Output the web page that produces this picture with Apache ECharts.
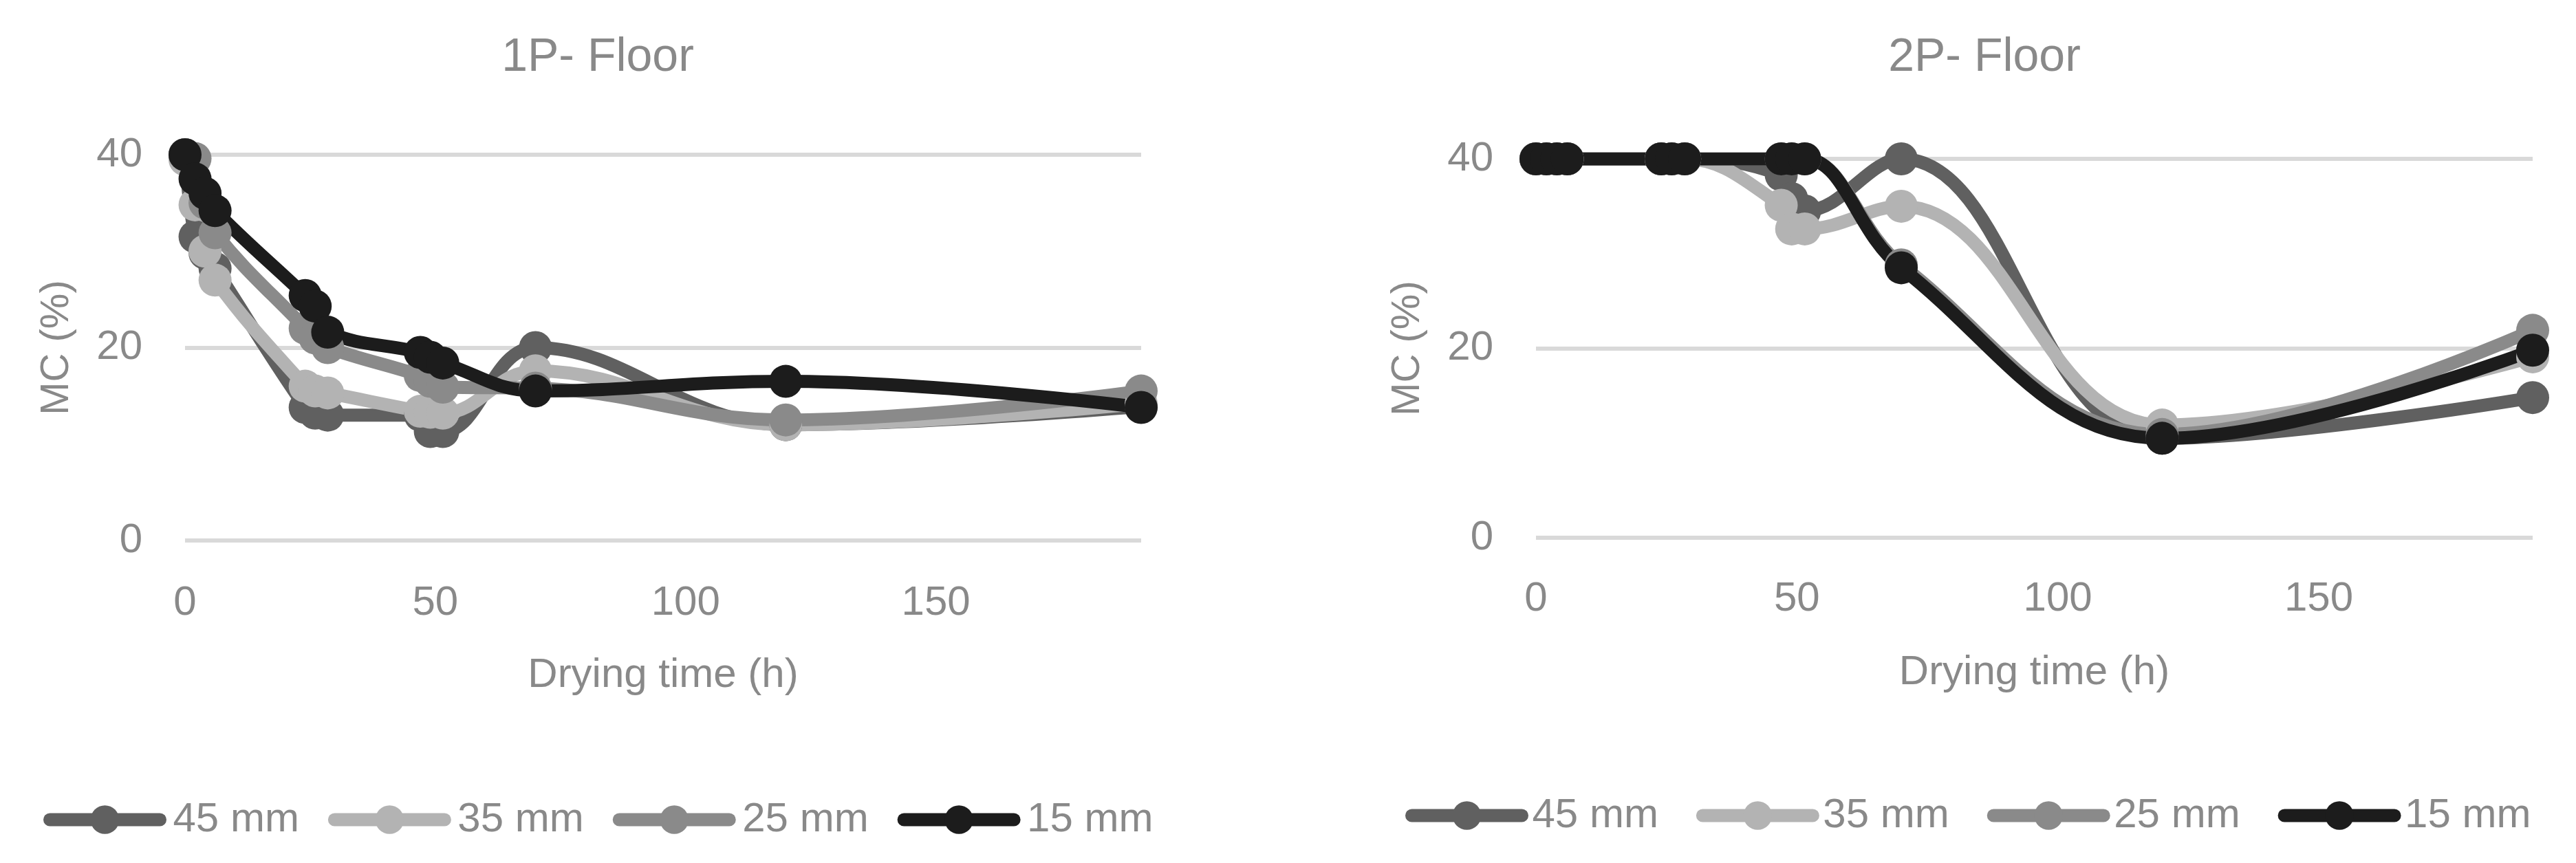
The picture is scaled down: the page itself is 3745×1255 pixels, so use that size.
<!DOCTYPE html>
<html>
<head>
<meta charset="utf-8">
<title>MC vs drying time</title>
<script src="https://cdn.jsdelivr.net/npm/echarts@6/dist/echarts.min.js"></script>
<style>
  html, body { margin: 0; padding: 0; background: #ffffff; }
  #chart { width: 3745px; height: 1255px; }
</style>
</head>
<body>
<div id="chart"></div>
<script>
// drying times (h), same for both floors
const hours = [0, 2, 4, 6, 24, 26, 28.5, 47, 49, 51.5, 70, 120, 191]

const seriesNames = ['45 mm', '35 mm', '25 mm', '15 mm']
const seriesColors = ['#606060', '#b3b3b3', '#8a8a8a', '#1c1c1c']

// 1P- Floor, MC (%)
const floor1Mc45 = [40, 31.5, 29.8, 28.2, 13.8, 13.2, 13.0, 13.0, 11.3, 11.3, 20.0, 12.0, 13.9]
const floor1Mc35 = [39.5, 34.8, 30.0, 27.0, 16.0, 15.5, 15.3, 13.4, 13.3, 13.2, 17.6, 12.0, 14.2]
const floor1Mc25 = [40, 39.6, 35.0, 31.9, 22.0, 21.0, 20.0, 17.1, 16.5, 15.9, 15.8, 12.5, 15.5]
const floor1Mc15 = [40, 37.5, 36.0, 34.2, 25.4, 24.3, 21.6, 19.5, 19.0, 18.4, 15.5, 16.5, 13.8]

// 2P- Floor, MC (%)
const floor2Mc45 = [40, 40, 40, 40, 40, 40, 40, 38.3, 35.8, 34.5, 40.0, 10.5, 14.8]
const floor2Mc35 = [40, 40, 40, 40, 40, 40, 40, 35.1, 32.6, 32.6, 35.0, 11.9, 19.1]
const floor2Mc25 = [40, 40, 40, 40, 40, 40, 40, 40, 40, 40, 28.8, 10.9, 21.9]
const floor2Mc15 = [40, 40, 40, 40, 40, 40, 40, 40, 40, 40, 28.5, 10.5, 19.8]

// axis ranges / ticks
const xMax = 191
const xInterval = 50
const yMax = 40
const yInterval = 20

const FONT = 'Liberation Sans'
const TEXT_COLOR = '#898989'
const GRID_COLOR = '#d9d9d9'

const chart = echarts.init(document.getElementById('chart'), null, { renderer: 'canvas' })

const toPoints = (values) => values.map((v, i) => [hours[i], v])

const buildSeries = (gridIndex, columns) => columns.map((values, i) => ({
  name: seriesNames[i],
  type: 'line',
  xAxisIndex: gridIndex,
  yAxisIndex: gridIndex,
  data: toPoints(values),
  smooth: 0.4,
  symbol: 'circle',
  symbolSize: 48,
  color: seriesColors[i],
  lineStyle: { width: 19, cap: 'round', join: 'round' },
  itemStyle: { borderWidth: 0 },
  emphasis: { disabled: true },
  animation: false,
}))

const textStyle = (size) => ({ color: TEXT_COLOR, fontSize: size, fontFamily: FONT, fontWeight: 'normal' })

const xAxisFor = (gridIndex, labelMargin) => ({
  type: 'value',
  gridIndex,
  min: 0,
  max: xMax,
  interval: xInterval,
  name: 'Drying time (h)',
  nameLocation: 'middle',
  nameGap: 166,
  nameTextStyle: textStyle(60),
  axisLine: { show: false },
  axisTick: { show: false },
  splitLine: { show: false },
  axisLabel: { ...textStyle(60), margin: labelMargin, showMaxLabel: false },
})

const yAxisFor = (gridIndex) => ({
  type: 'value',
  gridIndex,
  min: 0,
  max: yMax,
  interval: yInterval,
  name: 'MC (%)',
  nameLocation: 'middle',
  nameGap: 157,
  nameTextStyle: textStyle(58),
  axisLine: { show: false },
  axisTick: { show: false },
  axisLabel: { ...textStyle(60), margin: 62 },
  splitLine: { lineStyle: { color: GRID_COLOR, width: 6 } },
})

const legendFor = (left, top, itemGap, textPad) => ({
  left,
  top,
  padding: 0,
  orient: 'horizontal',
  itemWidth: 160,
  itemHeight: 52,
  itemGap,
  selectedMode: false,
  data: seriesNames,
  lineStyle: { width: 19, cap: 'round' },
  textStyle: { ...textStyle(60), padding: [0, 0, 0, textPad] },
})

const option = {
  backgroundColor: '#ffffff',
  animation: false,
  title: [
    { text: '1P- Floor', left: 864, top: 45, textAlign: 'center', textStyle: textStyle(68) },
    { text: '2P- Floor', left: 2880, top: 45, textAlign: 'center', textStyle: textStyle(68) },
  ],
  legend: [
    legendFor(63, 1162, 42, 14),
    legendFor(2043, 1156, 55, 10),
  ],
  grid: [
    { left: 269, top: 225, width: 1390, height: 561 },
    { left: 2233, top: 231, width: 1449, height: 551 },
  ],
  xAxis: [xAxisFor(0, 61), xAxisFor(1, 59)],
  yAxis: [yAxisFor(0), yAxisFor(1)],
  series: [
    ...buildSeries(0, [floor1Mc45, floor1Mc35, floor1Mc25, floor1Mc15]),
    ...buildSeries(1, [floor2Mc45, floor2Mc35, floor2Mc25, floor2Mc15]),
  ],
}

chart.setOption(option)
</script>
</body>
</html>
